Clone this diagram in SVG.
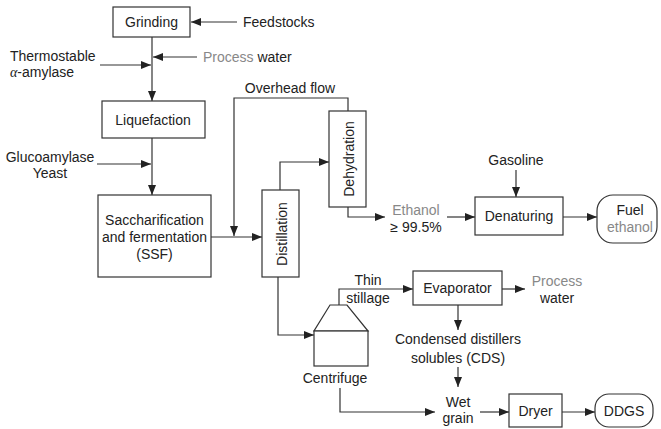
<svg xmlns="http://www.w3.org/2000/svg" width="661" height="429" viewBox="0 0 661 429">
<defs>
<marker id="ah" markerUnits="userSpaceOnUse" markerWidth="11" markerHeight="8" refX="10" refY="4" orient="auto">
<path d="M0,0 L10,4 L0,8 z" fill="#222"/>
</marker>
<style>
.box{fill:#fff;stroke:#333;stroke-width:1.2}
.ln{fill:none;stroke:#333;stroke-width:1.2;marker-end:url(#ah)}
text{font-family:"Liberation Sans",Arial,sans-serif;font-size:14px;fill:#222}
.m{text-anchor:middle}
.g{fill:#888}
</style>
</defs>
<rect width="661" height="429" fill="#fff"/>
<g id="connectors">
<line class="ln" x1="237" y1="22" x2="191" y2="22"/>
<line class="ln" x1="152" y1="37" x2="152" y2="101"/>
<line class="ln" x1="197" y1="57" x2="153" y2="57"/>
<line class="ln" x1="100" y1="65" x2="151" y2="65"/>
<line class="ln" x1="152" y1="138" x2="152" y2="195"/>
<line class="ln" x1="97" y1="164" x2="151" y2="164"/>
<line class="ln" x1="211" y1="237" x2="262" y2="237"/>
<path class="ln" d="M348,111 V98 H234 V236"/>
<path class="ln" d="M280,190 V162 H329"/>
<path class="ln" d="M348,207 V217 H385"/>
<line class="ln" x1="447" y1="217" x2="475" y2="217"/>
<line class="ln" x1="516" y1="170" x2="516" y2="197"/>
<line class="ln" x1="563" y1="217" x2="597" y2="217"/>
<path class="ln" d="M278,277 V335 H314"/>
<path class="ln" d="M339,305 V289 H413"/>
<line class="ln" x1="502" y1="289" x2="525" y2="289"/>
<line class="ln" x1="458" y1="305" x2="458" y2="330"/>
<line class="ln" x1="458" y1="367" x2="458" y2="387"/>
<path class="ln" d="M340,388 V412 H435"/>
<line class="ln" x1="480" y1="412" x2="509" y2="412"/>
<line class="ln" x1="562" y1="412" x2="595" y2="412"/>
</g>
<g id="grinding"><rect class="box" x="113" y="7" width="77" height="30"/><text class="m" x="151.5" y="27">Grinding</text></g>
<g id="feedstocks"><text x="243" y="27">Feedstocks</text></g>
<g id="process-water-1"><text x="203" y="62"><tspan class="g">Process</tspan> water</text></g>
<g id="amylase"><text x="10" y="61">Thermostable</text><text x="10" y="77"><tspan font-family="Liberation Serif" font-style="italic">α</tspan>-amylase</text></g>
<g id="liquefaction"><rect class="box" x="102" y="101" width="103" height="37"/><text class="m" x="153" y="124.5">Liquefaction</text></g>
<g id="glucoamylase"><text class="m" x="50" y="162">Glucoamylase</text><text class="m" x="50" y="178">Yeast</text></g>
<g id="ssf"><rect class="box" x="98" y="195" width="113" height="82"/><text class="m" x="154.5" y="225">Saccharification</text><text class="m" x="154.5" y="242">and fermentation</text><text class="m" x="154.5" y="259">(SSF)</text></g>
<g id="overhead"><text class="m" x="290" y="93">Overhead flow</text></g>
<g id="distillation"><rect class="box" x="262" y="190" width="37" height="87"/><text class="m" transform="translate(286.5,234) rotate(-90)">Distillation</text></g>
<g id="dehydration"><rect class="box" x="329" y="111" width="37" height="96"/><text class="m" transform="translate(353.5,159) rotate(-90)">Dehydration</text></g>
<g id="ethanol"><text class="m g" x="416" y="215">Ethanol</text><text class="m" x="416" y="232">≥ 99.5%</text></g>
<g id="gasoline"><text class="m" x="516" y="165">Gasoline</text></g>
<g id="denaturing"><rect class="box" x="475" y="197" width="88" height="38"/><text class="m" x="519" y="221">Denaturing</text></g>
<g id="fuel-ethanol"><rect class="box" x="597" y="195" width="60" height="48" rx="16"/><text class="m" x="630" y="215">Fuel</text><text class="m g" x="630" y="232">ethanol</text></g>
<g id="centrifuge"><polygon class="box" points="330,305 347,305 368,331 314,331"/><rect class="box" x="314" y="331" width="54" height="35"/><text class="m" x="335" y="383">Centrifuge</text></g>
<g id="thin-stillage"><text class="m" x="368" y="285">Thin</text><text class="m" x="368" y="303">stillage</text></g>
<g id="evaporator"><rect class="box" x="413" y="271" width="89" height="34"/><text class="m" x="457.5" y="293">Evaporator</text></g>
<g id="process-water-2"><text class="m g" x="557" y="286">Process</text><text class="m" x="557" y="303">water</text></g>
<g id="cds"><text class="m" x="458" y="344">Condensed distillers</text><text class="m" x="458" y="363">solubles (CDS)</text></g>
<g id="wet-grain"><text class="m" x="458" y="407">Wet</text><text class="m" x="458" y="423">grain</text></g>
<g id="dryer"><rect class="box" x="509" y="394" width="53" height="33"/><text class="m" x="535.5" y="416">Dryer</text></g>
<g id="ddgs"><rect class="box" x="595" y="394" width="58" height="33" rx="14"/><text class="m" x="624" y="416">DDGS</text></g>
</svg>
